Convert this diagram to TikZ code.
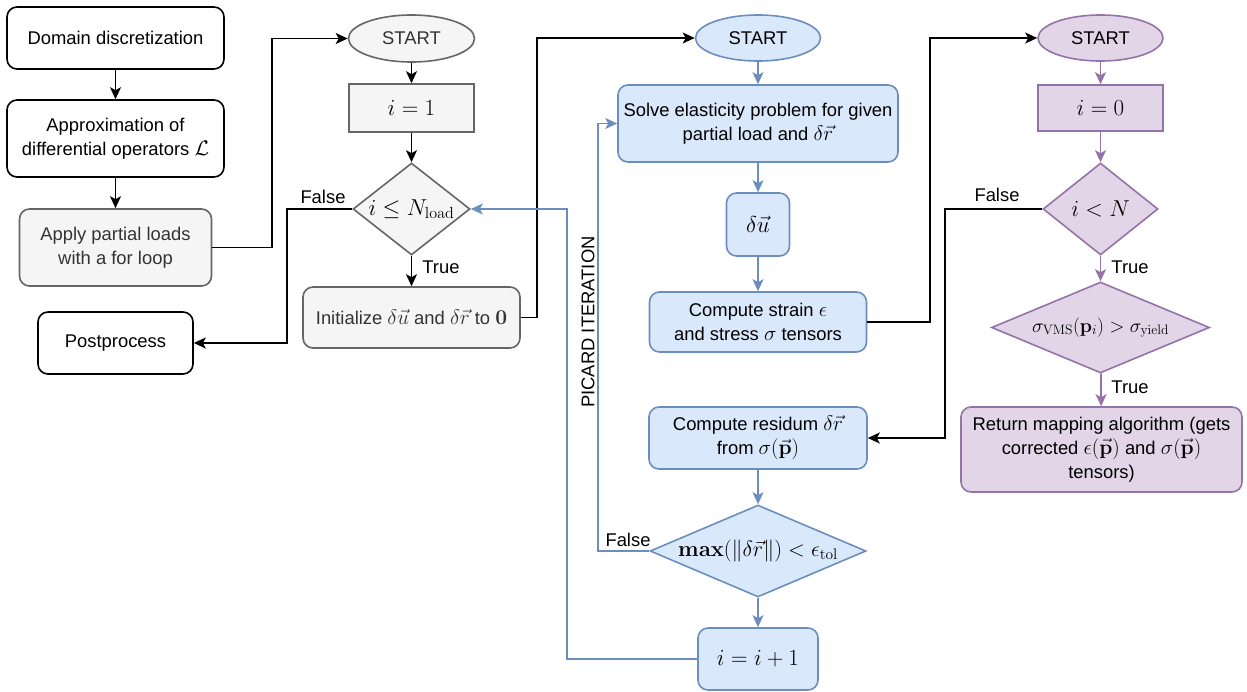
\RequirePackage{fix-cm}
\documentclass[tikz,border=0pt]{standalone}
\usepackage[no-math]{fontspec}
\setmainfont{Liberation Sans}
\usepackage{amsmath}
\usetikzlibrary{shapes.geometric,arrows.meta,calc}
\definecolor{grayF}{HTML}{F5F5F5}
\definecolor{grayD}{HTML}{666666}
\definecolor{grayT}{HTML}{333333}
\definecolor{blueF}{HTML}{DAE8FC}
\definecolor{blueD}{HTML}{6C8EBF}
\definecolor{purpF}{HTML}{E1D5E7}
\definecolor{purpD}{HTML}{9673A6}
\newcommand\mm[1]{{\fontsize{21}{23}\selectfont$#1$}}
\newcommand\mmL[1]{{\fontsize{23}{25}\selectfont$#1$}}
\begin{document}
\begin{tikzpicture}[x=1pt,y=-1pt,
  every node/.style={font=\fontsize{18.4}{24}\selectfont, text=black},
  base/.style={draw, line width=1.6pt, align=center, inner sep=2pt},
  wbox/.style={base, rounded corners=10pt, fill=white, draw=black},
  gbox/.style={base, rounded corners=10pt, fill=grayF, draw=grayD, text=grayT},
  grect/.style={base, fill=grayF, draw=grayD},
  gell/.style={base, ellipse, fill=grayF, draw=grayD, text=grayT},
  gdia/.style={base, diamond, fill=grayF, draw=grayD, inner sep=0pt},
  bbox/.style={base, rounded corners=10pt, fill=blueF, draw=blueD},
  bell/.style={base, ellipse, fill=blueF, draw=blueD},
  bdia/.style={base, diamond, fill=blueF, draw=blueD, inner sep=0pt},
  pbox/.style={base, rounded corners=10pt, fill=purpF, draw=purpD},
  prect/.style={base, fill=purpF, draw=purpD},
  pell/.style={base, ellipse, fill=purpF, draw=purpD},
  pdia/.style={base, diamond, fill=purpF, draw=purpD, inner sep=0pt},
  blk/.style={line width=1.8pt, -{Stealth[length=12pt,width=11pt,inset=3pt]}},
  bl/.style={blk, draw=blueD},
  pl/.style={blk, draw=purpD},
  lbl/.style={inner sep=0pt}
]
\useasboundingbox (0,0) rectangle (1247,691);

% column 1
\node[wbox, minimum width=217, minimum height=62] (d1) at (115.5,38) {Domain discretization};
\node[wbox, minimum width=217, minimum height=77] (d2) at (115.5,138.5) {Approximation of\\differential operators \mm{\mathcal{L}}};
\node[gbox, minimum width=192, minimum height=77] (d3) at (115.5,247.5) {Apply partial loads\\with a for loop};
\node[wbox, minimum width=155, minimum height=62] (post) at (115.5,343) {Postprocess};

% column 2
\node[gell, minimum width=126, minimum height=47] (s2) at (411.5,38.5) {START};
\node[grect, minimum width=125, minimum height=48] (i1) at (411.5,108) {\mmL{i=1}};
\node[gdia, aspect=1.3, minimum width=117, minimum height=92] (dia1) at (411.5,209) {\mmL{i\le N_{\mathrm{load}}}};
\node[gbox, minimum width=217, minimum height=61] (init) at (411.5,317.5) {Initialize \mm{\delta\vec{u}} and \mm{\delta\vec{r}} to \mm{\mathbf{0}}};

% column 3
\node[bell, minimum width=125, minimum height=46] (s3) at (758,38) {START};
\node[bbox, minimum width=280, minimum height=77] (solve) at (758,123.5) {Solve elasticity problem for given\\partial load and \mm{\delta\vec{r}}};
\node[bbox, minimum width=63, minimum height=63] (du) at (758,224.5) {\mmL{\delta\vec{u}}};
\node[bbox, minimum width=217, minimum height=60] (strain) at (758,322) {Compute strain \mm{\epsilon}\\and stress \mm{\sigma} tensors};
\node[bbox, minimum width=218, minimum height=62] (resid) at (758,438) {Compute residum \mm{\delta\vec{r}}\\from \mm{\sigma(\vec{\mathbf{p}})}};
\node[bdia, aspect=2.4, minimum width=216, minimum height=92] (dia2) at (758,551) {{\fontsize{22}{24}\selectfont$\mathbf{max}(\|\delta\vec{r}\|)<\epsilon_{\mathrm{tol}}$}};
\node[bbox, minimum width=120, minimum height=62] (inc) at (758,659) {\mmL{i=i+1}};

% column 4
\node[pell, minimum width=125, minimum height=46] (s4) at (1100.5,38) {START};
\node[prect, minimum width=125, minimum height=46] (i0) at (1100.5,108) {\mmL{i=0}};
\node[pdia, aspect=1.25, minimum width=115, minimum height=92] (dia3) at (1100.5,209) {\mmL{i<N}};
\node[pdia, aspect=2.4, minimum width=218, minimum height=91] (dia4) at (1100.5,327.5) {{\fontsize{19.5}{22}\selectfont$\sigma_{\mathrm{VMS}}(\mathbf{p}_i)>\sigma_{\mathrm{yield}}$}};
\node[pbox, minimum width=281, minimum height=85] (ret) at (1101.5,449.5) {Return mapping algorithm (gets\\corrected \mm{\epsilon(\vec{\mathbf{p}})} and \mm{\sigma(\vec{\mathbf{p}})}\\tensors)};

% bend coordinates
\coordinate (c1) at (272,0);
\coordinate (c2) at (287,0);
\coordinate (c3) at (537,0);
\coordinate (c7) at (567,0);
\coordinate (c6) at (598,0);
\coordinate (c4) at (930,0);
\coordinate (c5) at (945,0);

% black connectors
\draw[blk] (d1) -- (d2);
\draw[blk] (d2) -- (d3);
\draw[blk] (d3.east) -- (d3.east -| c1) |- (s2.west);
\draw[blk] (s2) -- (i1);
\draw[blk] (i1) -- (dia1);
\draw[blk] (dia1) -- (init);
\draw[blk] (dia1.west) -- (dia1.west -| c2) |- (post.east);
\draw[blk] (init.east) -- (init.east -| c3) |- (s3.west);
\draw[blk] (strain.east) -- (strain.east -| c4) |- (s4.west);
\draw[blk] (dia3.west) -- (dia3.west -| c5) |- (resid.east);

% blue connectors
\draw[bl] (s3) -- (solve);
\draw[bl] (solve) -- (du);
\draw[bl] (du) -- (strain);
\draw[bl] (resid) -- (dia2);
\draw[bl] (dia2) -- (inc);
\draw[bl] (dia2.west) -- (dia2.west -| c6) |- (solve.west);
\draw[bl] (inc.west) -- (inc.west -| c7) |- (dia1.east);

% purple connectors
\draw[pl] (s4) -- (i0);
\draw[pl] (i0) -- (dia3);
\draw[pl] (dia3) -- (dia4);
\draw[pl] (dia4) -- (ret);

% labels
\node[lbl] (f1) at (323,197) {False};
\node[lbl] (t1) at (441,267) {True};
\node[lbl] (f2) at (628,540) {False};
\node[lbl, rotate=90] (pic) at (588,322) {PICARD ITERATION};
\node[lbl] (f3) at (997,195) {False};
\node[lbl] (t3) at (1130,267) {True};
\node[lbl] (t4) at (1130,387) {True};
\end{tikzpicture}
\end{document}
